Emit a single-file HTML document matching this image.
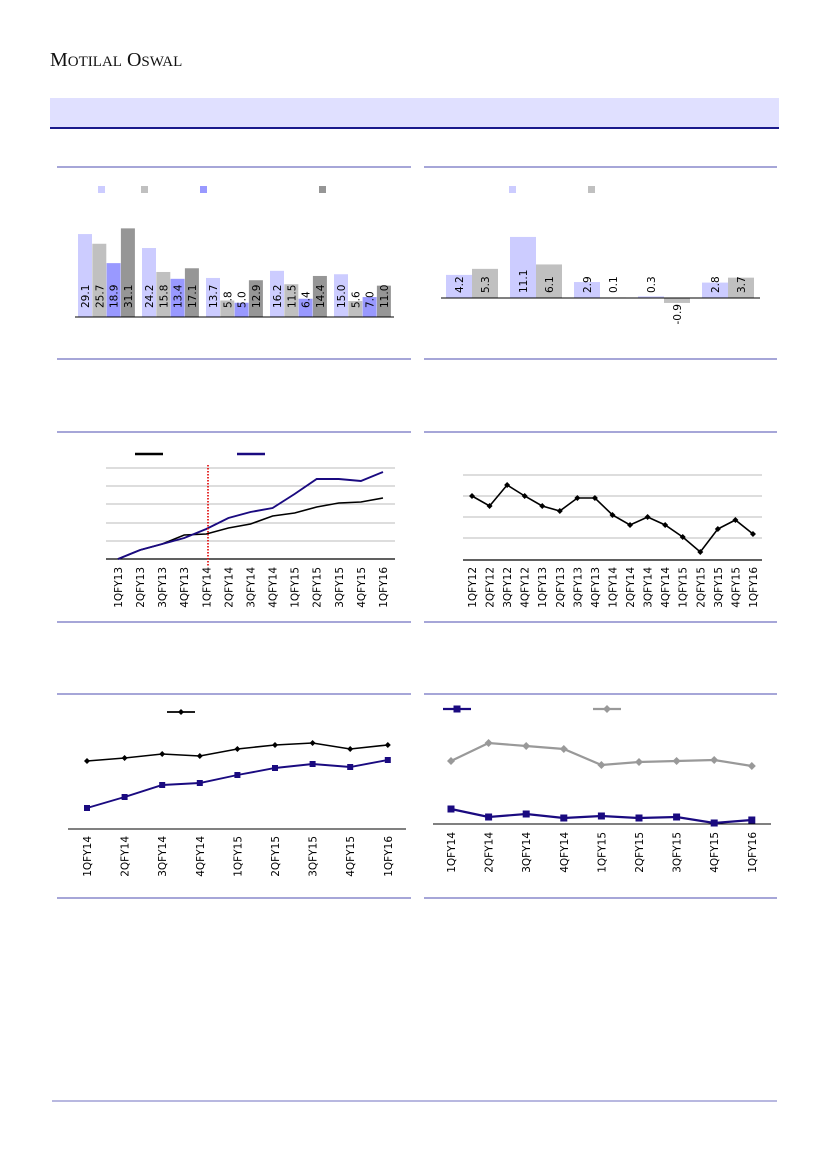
<!DOCTYPE html>
<html><head><meta charset="utf-8"><style>
html,body{margin:0;padding:0;background:#fff;}
svg{display:block;}
text{font-family:"DejaVu Sans","Liberation Sans",sans-serif;}
</style></head><body>
<svg id="s" width="827" height="1169" viewBox="0 0 827 1169" xmlns="http://www.w3.org/2000/svg">
<text x="50" y="66" style="font-family:'Liberation Serif',serif" font-size="20" fill="#111">M<tspan font-size="15">OTILAL</tspan> O<tspan font-size="15">SWAL</tspan></text>
<rect x="50" y="98" width="729" height="29" fill="#e0e0ff"/>
<rect x="50" y="127" width="729" height="2" fill="#1a1a8c"/>
</svg>
<script>
var s=document.getElementById('s'),NS='http://www.w3.org/2000/svg';
function el(t,a,txt){var e=document.createElementNS(NS,t);for(var k in a)e.setAttribute(k,a[k]);if(txt!=null)e.textContent=txt;s.appendChild(e);return e;}
function line(x1,y1,x2,y2,c,w,extra){var a={x1:x1,y1:y1,x2:x2,y2:y2,stroke:c,'stroke-width':w};for(var k in extra)a[k]=extra[k];return el('line',a);}
function rect(x,y,w,h,c){return el('rect',{x:x,y:y,width:w,height:h,fill:c});}
function vtext(x,y,t,anchor,size,col){return el('text',{x:0,y:0,transform:'translate('+x+','+y+') rotate(-90)','text-anchor':anchor,'font-size':size||10,fill:col||'#000'},t);}
[167,359,432,622,694,898].forEach(function(y){line(57,y,411,y,'#7070c0',1.2);line(424,y,777,y,'#7070c0',1.2);});
line(52,1101,777,1101,'#7070c0',1);
var c1=[[29.1,25.7,18.9,31.1],[24.2,15.8,13.4,17.1],[13.7,5.8,5.0,12.9],[16.2,11.5,6.4,14.4],[15.0,5.6,7.0,11.0]];
var cols=['#ccccff','#c0c0c0','#9999ff','#969696'];
c1.forEach(function(g,i){g.forEach(function(v,j){var x=78+i*64+j*14.3,h=v*2.85;rect(x,317-h,14,h,cols[j]);vtext(x+11,308,v.toFixed(1),'start',10.5);});});
line(75,317,394,317,'#000',1);
[98,141,200,319].forEach(function(x,j){rect(x,186,7,7,cols[j]);});
var c2=[[4.2,5.3],[11.1,6.1],[2.9,0.1],[0.3,-0.9],[2.8,3.7]];
c2.forEach(function(g,i){g.forEach(function(v,j){var x=446+i*64+j*26,h=Math.abs(v)*5.5;if(v>=0)rect(x,298-h,26,h,cols[j]);else rect(x,298,26,h,cols[j]);
if(v>=0)vtext(x+17,293,v.toFixed(1),'start',10.5);else vtext(x+17,304,v.toFixed(1),'end',10.5);});});
line(441,298,760,298,'#000',1);
rect(509,186,7,7,cols[0]);rect(588,186,7,7,cols[1]);
[468,486,504,523,541].forEach(function(y){line(106,y,395,y,'#bbb',1);});
line(106,559,395,559,'#000',1.2);
var q3=['1QFY13','2QFY13','3QFY13','4QFY13','1QFY14','2QFY14','3QFY14','4QFY14','1QFY15','2QFY15','3QFY15','4QFY15','1QFY16'];
var b3=[559,550,544,535,534,528,524,516,513,507,503,502,498],u3=[559,550,544,538,529,518,512,508,494,479,479,481,472];
function pts(x0,dx,ys){return ys.map(function(y,i){return (x0+i*dx).toFixed(1)+','+y;}).join(' ');}
el('polyline',{points:pts(118,22.08,b3),fill:'none',stroke:'#000','stroke-width':1.6});
el('polyline',{points:pts(118,22.08,u3),fill:'none',stroke:'#1a0a80','stroke-width':1.9});
line(208,465,208,566,'#e00000',1.6,{'stroke-dasharray':'1.5,1.5'});
q3.forEach(function(t,i){vtext(118+i*22.08+4,567,t,'end',10.5);});
line(135,454,163,454,'#000',2.5);line(237,454,265,454,'#1a0a80',2.5);
[475,496,517,538].forEach(function(y){line(463,y,762,y,'#bbb',1);});
line(463,560,762,560,'#000',1.2);
var q4=['1QFY12','2QFY12','3QFY12','4QFY12','1QFY13','2QFY13','3QFY13','4QFY13','1QFY14','2QFY14','3QFY14','4QFY14','1QFY15','2QFY15','3QFY15','4QFY15','1QFY16'];
var v4=[496,506,485,496,506,511,498,498,515,525,517,525,537,552,529,520,534];
el('polyline',{points:pts(472,17.56,v4),fill:'none',stroke:'#000','stroke-width':1.6});
v4.forEach(function(y,i){var x=472+i*17.56;el('path',{d:'M'+x+','+(y-3)+'l3,3l-3,3l-3,-3z',fill:'#000'});vtext(x+4,567,q4[i],'end',10.5);});
var q5=['1QFY14','2QFY14','3QFY14','4QFY14','1QFY15','2QFY15','3QFY15','4QFY15','1QFY16'];
var b5=[761,758,754,756,749,745,743,749,745],u5=[808,797,785,783,775,768,764,767,760];
line(68,829,406,829,'#000',1);
el('polyline',{points:pts(87,37.6,b5),fill:'none',stroke:'#000','stroke-width':1.6});
el('polyline',{points:pts(87,37.6,u5),fill:'none',stroke:'#1a0a80','stroke-width':1.9});
b5.forEach(function(y,i){var x=87+i*37.6;el('path',{d:'M'+x+','+(y-3)+'l3,3l-3,3l-3,-3z',fill:'#000'});rect(x-3,u5[i]-3,6,6,'#1a0a80');vtext(x+4,836,q5[i],'end',10.5);});
line(167,712,195,712,'#000',1.8);el('path',{d:'M181,709l3,3l-3,3l-3,-3z',fill:'#000'});
var g6=[761,743,746,749,765,762,761,760,766],u6=[809,817,814,818,816,818,817,823,820];
line(433,824,771,824,'#000',1);
el('polyline',{points:pts(451,37.6,g6),fill:'none',stroke:'#999','stroke-width':2.2});
el('polyline',{points:pts(451,37.6,u6),fill:'none',stroke:'#1a0a80','stroke-width':2.2});
g6.forEach(function(y,i){var x=451+i*37.6;el('path',{d:'M'+x+','+(y-4)+'l4,4l-4,4l-4,-4z',fill:'#999'});rect(x-3.5,u6[i]-3.5,7,7,'#1a0a80');vtext(x+4,832,q5[i],'end',10.5);});
line(443,709,471,709,'#1a0a80',2.2);rect(453.5,705.5,7,7,'#1a0a80');
line(593,709,621,709,'#999',2.2);el('path',{d:'M607,705l4,4l-4,4l-4,-4z',fill:'#999'});
</script>
</body></html>
